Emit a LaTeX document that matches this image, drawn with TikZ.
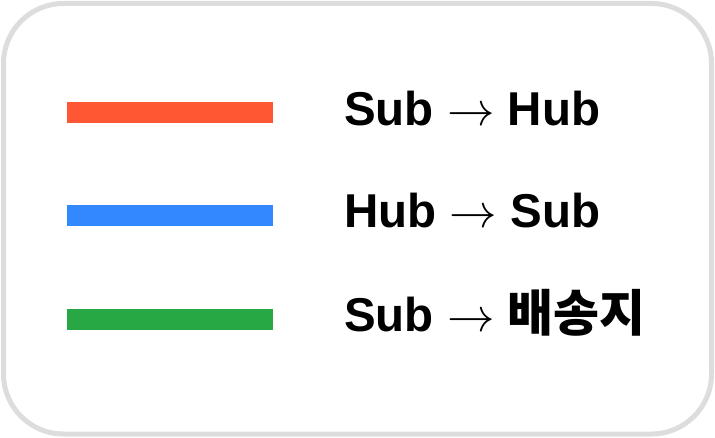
\RequirePackage{fix-cm}
\documentclass[tikz,border=0pt]{standalone}
\usepackage{fontspec}
\setmainfont{Liberation Sans}
\newfontfamily\kofont{Noto Sans CJK KR}
\newcommand{\legarrow}{$\rightarrow$}
\definecolor{frame}{HTML}{DDDDDD}
\definecolor{lred}{HTML}{FF5733}
\definecolor{lblue}{HTML}{3388FF}
\definecolor{lgreen}{HTML}{28A745}
\begin{document}
\begin{tikzpicture}[x=1pt,y=-1pt,
  legline/.style={line width=21pt},
  legtext/.style={anchor=base west,inner sep=0pt,font=\fontsize{47.5}{52}\selectfont\bfseries}]
\useasboundingbox (0,0) rectangle (715,438);
\draw[frame,line width=5pt,rounded corners=60pt,fill=white] (3.5,3.5) rectangle (711.5,434);
\coordinate (r1) at (67,112.5); \coordinate (r1e) at (273,112.5);
\coordinate (b1) at (67,215.5); \coordinate (b1e) at (273,215.5);
\coordinate (g1) at (67,319.5); \coordinate (g1e) at (273,319.5);
\draw[legline,lred] (r1) -- (r1e);
\draw[legline,lblue] (b1) -- (b1e);
\draw[legline,lgreen] (g1) -- (g1e);
\node[legtext] (t1) at (344,125.5) {Sub \legarrow{} Hub};
\node[legtext] (t2) at (344,227.5) {Hub \legarrow{} Sub};
\node[legtext] (t3) at (344,332) {Sub \legarrow{} {\kofont\bfseries\fontsize{50}{56}\selectfont 배송지}};
\end{tikzpicture}
\end{document}
